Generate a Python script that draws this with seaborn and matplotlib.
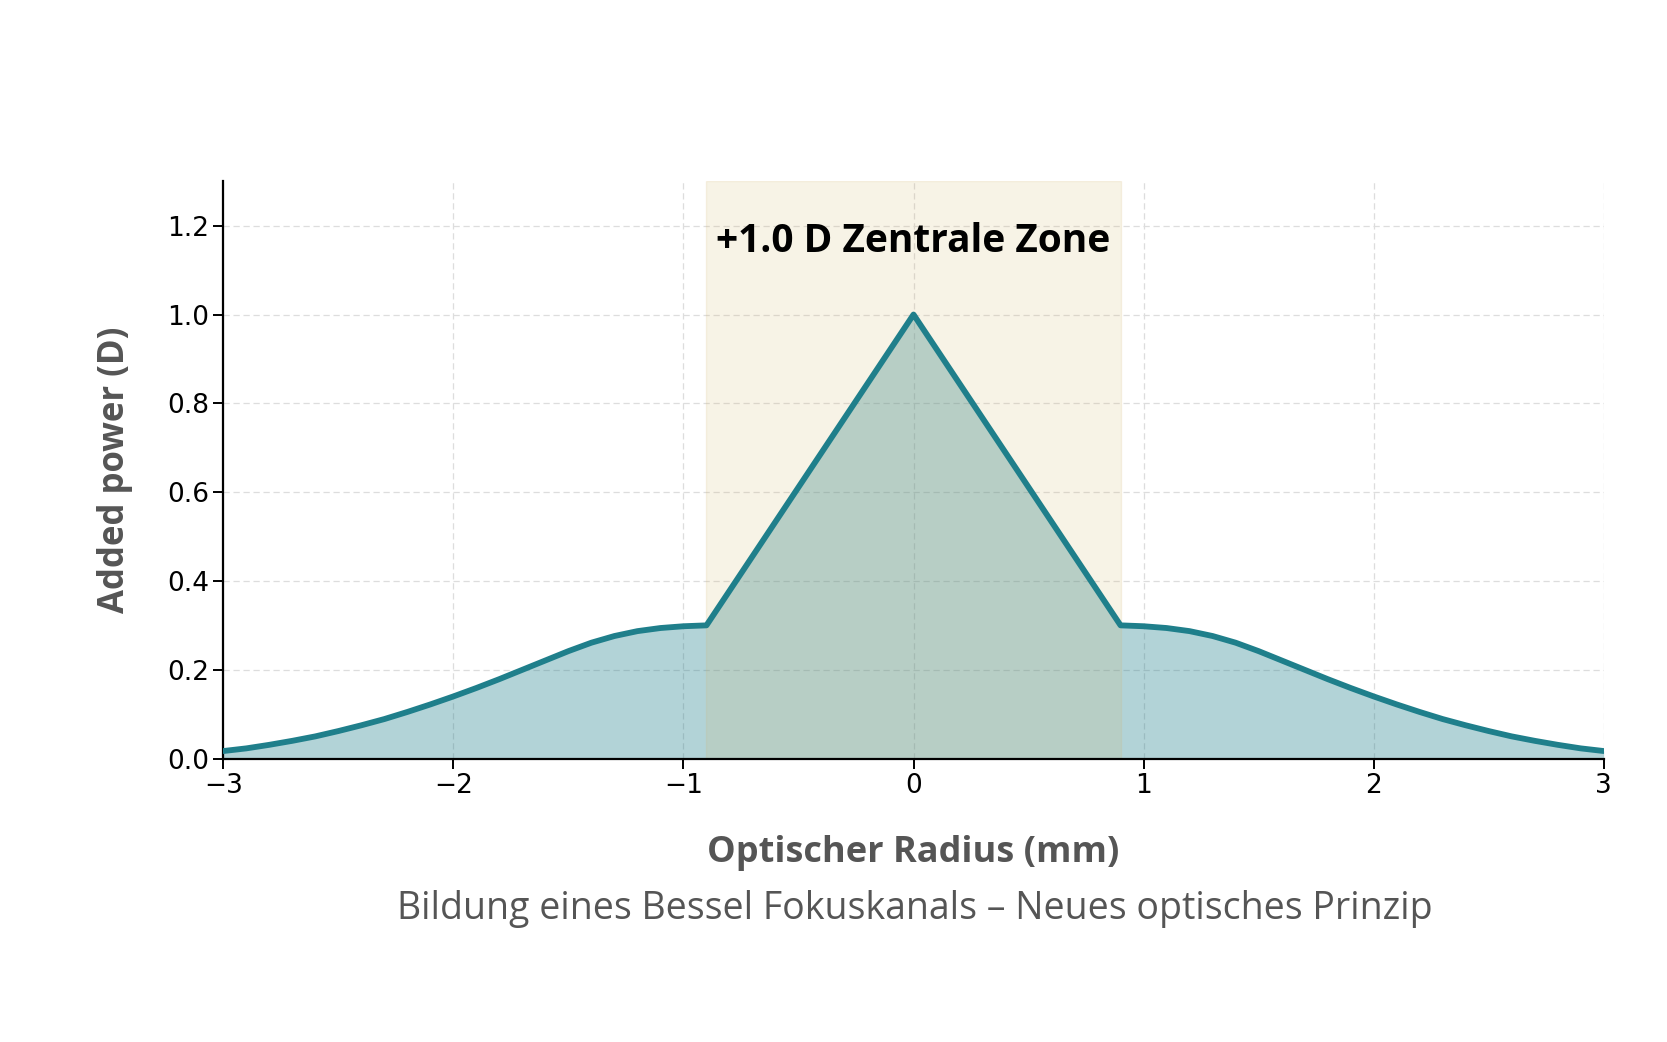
import numpy as np
import pandas as pd
import matplotlib
matplotlib.use("Agg")
import matplotlib.pyplot as plt
import seaborn as sns

# Values
radius_mm = [-3.0, -2.9, -2.8, -2.7, -2.6, -2.5, -2.4, -2.3, -2.2, -2.1, -2.0,
             -1.9, -1.8, -1.7, -1.6, -1.5, -1.4, -1.3, -1.2, -1.1, -1.0, -0.9,
             0.0,
             0.9, 1.0, 1.1, 1.2, 1.3, 1.4, 1.5, 1.6, 1.7, 1.8, 1.9, 2.0,
             2.1, 2.2, 2.3, 2.4, 2.5, 2.6, 2.7, 2.8, 2.9, 3.0]
added_power_D = [0.017, 0.023, 0.031, 0.040, 0.050, 0.062, 0.075, 0.089, 0.105, 0.122, 0.140,
                 0.159, 0.179, 0.200, 0.221, 0.242, 0.261, 0.276, 0.287, 0.294, 0.298, 0.300,
                 1.000,
                 0.300, 0.298, 0.294, 0.287, 0.276, 0.261, 0.242, 0.221, 0.200, 0.179, 0.159, 0.140,
                 0.122, 0.105, 0.089, 0.075, 0.062, 0.050, 0.040, 0.031, 0.023, 0.017]
zone_edges = [-0.9, 0.9]
y_ticks = [0.0, 0.2, 0.4, 0.6, 0.8, 1.0, 1.2]
x_ticks = [-3, -2, -1, 0, 1, 2, 3]

zone_label = "+1.0 D Zentrale Zone"
x_label = "Optischer Radius (mm)"
y_label = "Added power (D)"
subtitle = "Bildung eines Bessel Fokuskanals – Neues optisches Prinzip"

df = pd.DataFrame({"r": radius_mm, "p": added_power_D})

sns.set_style("white")
plt.rcParams["font.family"] = ["DejaVu Sans"]

line_color = "#1f7f8b"
label_font = ["Open Sans", "DejaVu Sans"]

fig = plt.figure(figsize=(16.67, 10.42), dpi=100)
ax = fig.add_axes([0.134, 0.272, 0.828, 0.554])

ax.fill_between(df["r"], df["p"], 0, color=line_color, alpha=0.34, lw=0, zorder=2)
ax.axvspan(zone_edges[0], zone_edges[1], color="#d4b870", alpha=0.17, zorder=2.5)
sns.lineplot(data=df, x="r", y="p", ax=ax, color=line_color, lw=4.2,
             sort=False, zorder=3, solid_joinstyle="round", solid_capstyle="round")

ax.set_xlim(-3, 3)
ax.set_ylim(0, 1.3)
ax.set_xticks(x_ticks)
ax.set_yticks(y_ticks)
ax.set_yticklabels([f"{v:.1f}" for v in y_ticks])
ax.grid(True, ls=(0, (5, 3)), color="#dddddd", lw=0.9, zorder=0)
ax.set_axisbelow(True)

for s in ["top", "right"]:
    ax.spines[s].set_visible(False)
for s in ["left", "bottom"]:
    ax.spines[s].set_color("black")
    ax.spines[s].set_linewidth(1.6)
ax.tick_params(axis="both", direction="out", length=7, width=1.4,
               colors="black", labelsize=19, bottom=True, left=True)

ax.set_xlabel(x_label, fontsize=26, fontweight="bold", color="#555555",
              family=label_font, labelpad=26)
ax.set_ylabel(y_label, fontsize=25, fontweight="bold", color="#555555",
              family=label_font, labelpad=24)

ax.text(0, 1.165, zone_label, ha="center", va="center", fontsize=28,
        fontweight="bold", color="black", family=label_font, zorder=4)

fig.text(0.549, 0.128, subtitle, ha="center", va="center", fontsize=27,
         color="#555555", family=label_font)

fig.savefig("out.png", dpi=100)
